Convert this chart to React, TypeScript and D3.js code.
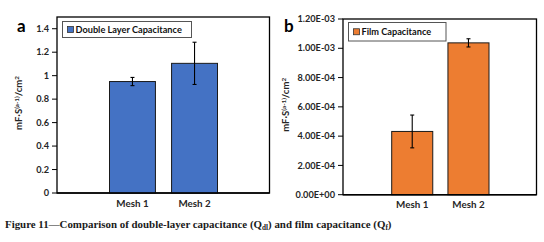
import React from "react";
import * as d3 from "d3";

const categories = ["Mesh 1", "Mesh 2"];
const dlValues = [0.95, 1.105];
const dlErrors = [0.035, 0.18];
const dlTicks = [0, 0.2, 0.4, 0.6, 0.8, 1, 1.2, 1.4];
const filmValues = [4.32e-4, 1.037e-3];
const filmErrors = [1.12e-4, 0.028e-3];
const filmTicks = [0, 2e-4, 4e-4, 6e-4, 8e-4, 1e-3, 1.2e-3];
const filmTickLabels = ["0.00E+00", "2.00E-04", "4.00E-04", "6.00E-04", "8.00E-04", "1.00E-03", "1.20E-03"];

const FONT = "Lato, 'Open Sans', sans-serif";
const TXT = "#262626";

type PanelProps = {
  letter: string;
  letterX: number;
  letterY: number;
  left: number;
  right: number;
  top: number;
  bottom: number;
  yMax: number;
  ticks: number[];
  tickFmt: (v: number, i: number) => string;
  values: number[];
  errors: number[];
  color: string;
  legend: string;
  legendBox: [number, number, number, number];
  titleX: number;
  barRange: [number, number];
  padding: number;
};

function Panel(p: PanelProps) {
  const y = d3.scaleLinear().domain([0, p.yMax]).range([p.bottom, p.top]);
  const x = d3.scaleBand().domain(categories).range(p.barRange).paddingInner(p.padding);
  const [lx, ly, lw, lh] = p.legendBox;
  const titleY = (p.top + p.bottom) / 2 - 2;
  return (
    <g>
      <rect x={p.left} y={p.top} width={p.right - p.left} height={p.bottom - p.top} fill="#fff" stroke="#000" strokeWidth={1.3} />
      {categories.map((c, i) => {
        const x0 = x(c)!;
        const w = x.bandwidth();
        const cx = x0 + w / 2;
        const v = p.values[i];
        const e = p.errors[i];
        return (
          <g key={c}>
            <rect x={x0} y={y(v)} width={w} height={p.bottom - y(v)} fill={p.color} stroke="#1a1a1a" strokeWidth={1} />
            <line x1={cx} x2={cx} y1={y(v + e)} y2={y(v - e)} stroke="#000" strokeWidth={1.1} />
            <line x1={cx - 2} x2={cx + 2} y1={y(v + e)} y2={y(v + e)} stroke="#000" strokeWidth={1.1} />
            <line x1={cx - 2} x2={cx + 2} y1={y(v - e)} y2={y(v - e)} stroke="#000" strokeWidth={1.1} />
            <text x={cx} y={p.bottom + 13.5} textAnchor="middle" fontFamily={FONT} fontWeight={700} fontSize={9.8} fill={TXT}>{c}</text>
          </g>
        );
      })}
      <line x1={p.left} x2={p.right} y1={p.bottom} y2={p.bottom} stroke="#000" strokeWidth={1.5} />
      {p.ticks.map((t, i) => (
        <g key={i}>
          <line x1={p.left - 5} x2={p.left} y1={y(t)} y2={y(t)} stroke="#000" strokeWidth={1} />
          <text x={p.left - 8} y={y(t) + 3.2} textAnchor="end" fontFamily={FONT} fontWeight={700} fontSize={9.2} fill={TXT}>{p.tickFmt(t, i)}</text>
        </g>
      ))}
      <text x={p.letterX} y={p.letterY} fontFamily={FONT} fontWeight={700} fontSize={17} fill="#000">{p.letter}</text>
      <text transform={`translate(${p.titleX},${titleY}) rotate(-90)`} textAnchor="middle" fontFamily={FONT} fontWeight={700} fontSize={9.5} fill={TXT}>
        mF·S<tspan dy={-3.5} fontSize={6.3}>(a-1)</tspan><tspan dy={3.5}>/cm</tspan><tspan dy={-3.5} fontSize={6.3}>2</tspan>
      </text>
      <rect x={lx} y={ly} width={lw} height={lh} fill="#fff" stroke="#555" strokeWidth={1} />
      <rect x={lx + 5} y={ly + lh / 2 - 3} width={6} height={6} fill={p.color} stroke="#333" strokeWidth={0.8} />
      <text x={lx + 13} y={ly + lh / 2 + 3.2} fontFamily={FONT} fontWeight={700} fontSize={9.2} fill="#111">{p.legend}</text>
    </g>
  );
}

export default function App() {
  return (
    <svg width={544} height={242} style={{ position: "absolute", left: 0, top: 0, background: "#fff" }}>
      <Panel
        letter="a"
        letterX={17}
        letterY={31.5}
        left={57}
        right={269.5}
        top={17}
        bottom={193}
        yMax={1.5}
        ticks={dlTicks}
        tickFmt={(v) => d3.format("")(Math.round(v * 10) / 10)}
        values={dlValues}
        errors={dlErrors}
        color="#4472C4"
        legend="Double Layer Capacitance"
        legendBox={[62.5, 21.5, 129, 16]}
        titleX={22}
        barRange={[109.5, 217.5]}
        padding={0.26}
      />
      <Panel
        letter="b"
        letterX={284}
        letterY={32}
        left={343}
        right={536.5}
        top={19}
        bottom={194.7}
        yMax={1.2e-3}
        ticks={filmTicks}
        tickFmt={(_, i) => filmTickLabels[i]}
        values={filmValues}
        errors={filmErrors}
        color="#ED7D31"
        legend="Film Capacitance"
        legendBox={[348.5, 22.5, 97.5, 18.5]}
        titleX={289}
        barRange={[391.7, 489]}
        padding={0.27}
      />
      <text x={5} y={228} fontFamily="'Liberation Serif', 'DejaVu Serif', serif" fontWeight={700} fontSize={10.9} fill="#1a1a1a">
        Figure 11—Comparison of double-layer capacitance (Q<tspan dy={2} fontSize={7.2}>dl</tspan><tspan dy={-2}>) and film capacitance (Q</tspan><tspan dy={2} fontSize={7.2}>f</tspan><tspan dy={-2}>)</tspan>
      </text>
    </svg>
  );
}
